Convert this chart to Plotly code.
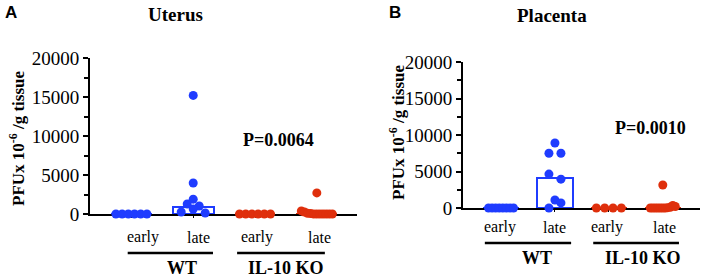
import plotly.graph_objects as go

# ---------------- data ----------------
categories = ["early", "late", "early", "late"]
groups = ["WT", "IL-10 KO"]

uterus_wt_early = [0, 0, 0, 0, 0, 0]
uterus_wt_late = [15200, 3970, 1900, 1280, 1030, 260, 640, 130]
uterus_ko_early = [0, 0, 0, 0, 0, 0]
uterus_ko_late = [400, 250, 100, 50, 0, 0, 0, 0, 0, 0, 0, 2700]
uterus_bars = [0, 950, 0, 0]

placenta_wt_early = [0, 0, 0, 0, 0, 0, 0, 0]
placenta_wt_late = [8900, 7500, 7500, 4650, 3950, 1100, 0, 700]
placenta_ko_early = [0, 0, 0, 0]
placenta_ko_late = [0, 0, 0, 0, 0, 0, 0, 50, 100, 350, 200, 3150]
placenta_bars = [0, 4100, 0, 0]

y_ticks = [0, 5000, 10000, 15000, 20000]
y_tick_labels = ["0", "5000", "10000", "15000", "20000"]
p_uterus = "P=0.0064"
p_placenta = "P=0.0010"

BLUE = "#1f3cff"
RED = "#df2f0c"
SERIF = "Liberation Serif"
W, H = 702, 279

# ---------------- layout geometry (pixels) ----------------
panels = {
    "A": dict(l=90, r=357, t=58, b=214, xr=[-0.67, 3.65], cap=15.5),
    "B": dict(l=463, r=700, t=62, b=208, xr=[-0.705, 3.69], cap=12.5),
}


def swarm(vals, cat, px_per_val, px_per_cat, cap_px, row_px=6.0, step_px=12.0):
    """Row-based dot-plot layout: points with close values share a row,
    spread symmetrically around the category centre."""
    order = sorted(range(len(vals)), key=lambda i: vals[i])
    rows = []
    for i in order:
        if rows and (vals[i] - vals[rows[-1][0]]) * px_per_val <= row_px:
            rows[-1].append(i)
        else:
            rows.append([i])
    offs = [0.0] * len(vals)
    for row in rows:
        row = sorted(row)
        n = len(row)
        s = step_px if n < 2 else min(step_px, 2 * cap_px / (n - 1))
        for k, i in enumerate(row):
            offs[i] = (k - (n - 1) / 2) * s
    return [cat + o / px_per_cat for o in offs]


fig = go.Figure()

datasets = {
    "A": ([uterus_wt_early, uterus_wt_late, uterus_ko_early, uterus_ko_late], uterus_bars, "x", "y"),
    "B": ([placenta_wt_early, placenta_wt_late, placenta_ko_early, placenta_ko_late], placenta_bars, "x2", "y2"),
}
colors = [BLUE, BLUE, RED, RED]

for key, (series, bars, xa, ya) in datasets.items():
    p = panels[key]
    px_per_val = (p["b"] - p["t"]) / 20000.0
    px_per_cat = (p["r"] - p["l"]) / (p["xr"][1] - p["xr"][0])
    fig.add_trace(go.Bar(
        x=[0, 1, 2, 3], y=bars, width=0.66,
        marker=dict(color="rgba(0,0,0,0)", line=dict(color=colors, width=2)),
        xaxis=xa, yaxis=ya, showlegend=False, hoverinfo="skip"))
    for ci, vals in enumerate(series):
        xs = swarm(vals, ci, px_per_val, px_per_cat, p["cap"])
        fig.add_trace(go.Scatter(
            x=xs, y=vals, mode="markers", cliponaxis=False,
            marker=dict(color=colors[ci], size=9, line=dict(width=0)),
            xaxis=xa, yaxis=ya, showlegend=False))


def dom(p):
    return dict(x=[p["l"] / W, p["r"] / W], y=[(H - p["b"]) / H, (H - p["t"]) / H])


axis_common_y = dict(
    range=[0, 20000], tickmode="array", tickvals=y_ticks, ticktext=y_tick_labels,
    ticks="outside", ticklen=5, tickwidth=1.5, automargin=False,
    tickcolor="black", showline=True, linecolor="black", linewidth=2,
    showgrid=False, zeroline=False,
    tickfont=dict(family=SERIF, size=19, color="black"),
    minor=dict(dtick=2500, ticks="outside", ticklen=4, tickwidth=1.5, tickcolor="black"),
)
axis_common_x = dict(
    tickmode="array", tickvals=[0, 1, 2, 3], ticks="outside", ticklen=2, tickwidth=1,
    tickcolor="black", showticklabels=False, showline=True, linecolor="black", linewidth=2,
    showgrid=False, zeroline=False, layer="below traces", automargin=False,
)

dA, dB = dom(panels["A"]), dom(panels["B"])
fig.update_layout(
    template="none",
    width=W, height=H, autosize=False, margin=dict(l=0, r=0, t=0, b=0, pad=0),
    paper_bgcolor="white", plot_bgcolor="white", bargap=0,
    font=dict(family=SERIF, color="black"),
    xaxis=dict(domain=dA["x"], range=panels["A"]["xr"], anchor="y", **axis_common_x),
    yaxis=dict(domain=dA["y"], anchor="x", **axis_common_y),
    xaxis2=dict(domain=dB["x"], range=panels["B"]["xr"], anchor="y2", **axis_common_x),
    yaxis2=dict(domain=dB["y"], anchor="x2", **axis_common_y),
)


def py(ypx):
    return (H - ypx) / H


ann = []
cat_label_pos = {"A": ([0.19, 1.09, 2.04, 3.04], 237), "B": ([-0.02, 1.0, 1.97, 3.03], 227)}
group_pos = {
    "A": dict(spans=[(-0.06, 1.32), (1.71, 3.13)], text_x=[0.82, 2.50], line_y=253, text_y=268),
    "B": dict(spans=[(-0.30, 1.30), (1.71, 3.30)], text_x=[0.67, 2.63], line_y=243, text_y=258),
}
shapes = []
for key, xa in (("A", "x"), ("B", "x2")):
    xs, ypx = cat_label_pos[key]
    for x, lab in zip(xs, categories):
        ann.append(dict(x=x, y=py(ypx), xref=xa, yref="paper", text=lab, showarrow=False,
                        font=dict(family=SERIF, size=16, color="black"),
                        xanchor="center", yanchor="middle"))
    g = group_pos[key]
    for (x0, x1), tx, lab in zip(g["spans"], g["text_x"], groups):
        shapes.append(dict(type="line", xref=xa, yref="paper", x0=x0, x1=x1,
                           y0=py(g["line_y"]), y1=py(g["line_y"]),
                           line=dict(color="black", width=2.5)))
        ann.append(dict(x=tx, y=py(g["text_y"]), xref=xa, yref="paper", text=f"<b>{lab}</b>",
                        showarrow=False, font=dict(family=SERIF, size=18, color="black"),
                        xanchor="center", yanchor="middle"))


def pann(text, xpx, ypx, size, family=SERIF, angle=0):
    ann.append(dict(x=xpx / W, y=py(ypx), xref="paper", yref="paper", text=text,
                    showarrow=False, textangle=angle,
                    font=dict(family=family, size=size, color="black"),
                    xanchor="center", yanchor="middle"))


pann("<b>Uterus</b>", 175, 15, 19)
pann("<b>Placenta</b>", 552, 16, 19)
pann("<b>A</b>", 11, 13, 17, family="Liberation Sans")
pann("<b>B</b>", 395, 13, 17, family="Liberation Sans")
pann(f"<b>{p_uterus}</b>", 278, 140, 18)
pann(f"<b>{p_placenta}</b>", 650, 128, 18)
pann("<b>PFUx 10<sup>-6</sup> /g tissue</b>", 17, 139, 17, angle=-90)
pann("<b>PFUx 10<sup>-6</sup> /g tissue</b>", 397, 133, 17, angle=-90)

fig.update_layout(annotations=ann, shapes=shapes)
fig.write_html(
    "out.html",
    config={"displayModeBar": False, "responsive": False},
    post_script="document.body.style.margin='0';document.body.style.overflow='hidden';",
)
